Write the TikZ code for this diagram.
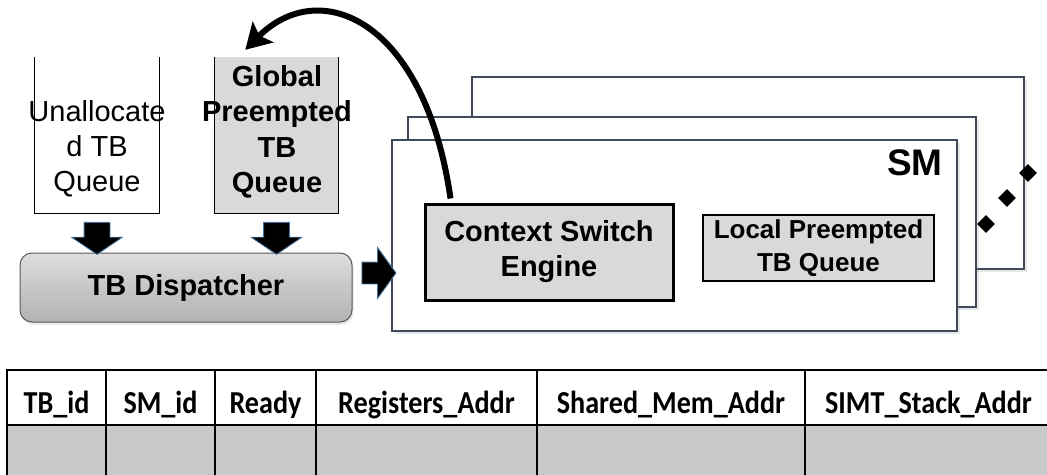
\documentclass[tikz,border=0pt]{standalone}
\usepackage{graphicx}
\usepackage{fontspec}
\setmainfont{Liberation Sans}
\newfontfamily\tablefont{Carlito}
\usetikzlibrary{arrows.meta,shapes.arrows,shapes.geometric,shadows}
\definecolor{smedge}{HTML}{3F4B5B}
\definecolor{arrowedge}{HTML}{41719C}
\definecolor{queuegray}{HTML}{D9D9D9}
\definecolor{rowgray}{HTML}{C9C9C9}
\definecolor{dispedge}{HTML}{5A5A5A}

\begin{document}
\begin{tikzpicture}[
  x=1pt,
  y=-1pt,
  every node/.style={font=\fontsize{29}{35}\selectfont, inner sep=0pt},
  queuebox/.style={minimum width=124pt, minimum height=156pt},
  queueline/.style={black, line width=1.2pt},
  queuetext/.style={align=center},
  downarrow/.style={single arrow, draw=arrowedge, fill=black, line width=0.8pt,
                    rotate=-90, inner xsep=0pt, inner ysep=12.5pt,
                    single arrow head extend=12.5pt, single arrow tip angle=112,
                    minimum height=32pt},
  rightarrow/.style={single arrow, draw=arrowedge, fill=black, line width=0.9pt,
                     inner xsep=0pt, inner ysep=10.5pt,
                     single arrow head extend=14.5pt, single arrow tip angle=108,
                     minimum height=34pt},
  dispbox/.style={draw=dispedge, line width=1pt, rounded corners=12pt,
                  top color=black!13, bottom color=black!30, middle color=black!22,
                  minimum width=332pt, minimum height=69pt,
                  drop shadow={shadow xshift=1.5pt, shadow yshift=-2.5pt, opacity=0.2}},
  smbox/.style={draw=smedge, fill=white, line width=1.4pt,
                drop shadow={shadow xshift=2.5pt, shadow yshift=-3pt, opacity=0.18}},
  unitbox/.style={draw=black, fill=queuegray, align=center, font=\fontsize{29}{35}\selectfont\bfseries},
  dot/.style={diamond, fill=black, minimum size=18pt},
  swaparrow/.style={black, line width=6pt, -{Stealth[length=25pt, width=29pt, inset=5pt]}},
  headcell/.style={draw=black, line width=1.2pt, fill=white, minimum height=55pt,
                   text height=31pt, text depth=0pt, font=\fontsize{32}{35}\tablefont\bfseries},
  bodycell/.style={draw=black, line width=1.2pt, fill=rowgray, minimum height=56pt}
]
  % ---- page frame ----
  \useasboundingbox (0,0) rectangle (1047,474);

  % ---- the two queues, open at the top ----
  \node[queuebox] (unalloc) at (97,135) {};
  \node[queuebox, fill=queuegray] (globalq) at (276.5,135) {};
  \draw[queueline] (unalloc.north west) -- (unalloc.south west)
    -- (unalloc.south east) -- (unalloc.north east);
  \draw[queueline] (globalq.north west) -- (globalq.south west)
    -- (globalq.south east) -- (globalq.north east);
  \node[queuetext] (unalloclab) at (97,149) {Unallocate\\d TB\\Queue};
  \node[queuetext, font=\fontsize{29}{35.5}\selectfont\bfseries] (globallab)
    at (277,132) {Global\\Preempted\\TB\\Queue};

  % ---- dispatcher ----
  \node[dispbox] (dispatch) at (186,287.5) {\bfseries TB Dispatcher};
  \node[downarrow] (feedA) at (97,234) {};
  \node[downarrow] (feedB) at (276.5,234) {};

  % ---- stack of SMs, back to front ----
  \node[smbox, minimum width=552pt, minimum height=192pt] (smback) at (748,173) {};
  \node[smbox, minimum width=568pt, minimum height=190pt] (smmid) at (692,212) {};
  \node[smbox, minimum width=565pt, minimum height=191pt] (smfront) at (674.5,235.5) {};
  \node[anchor=east, font=\fontsize{37}{40}\selectfont\bfseries] (smlab) at (943,163) {SM};
  \node[rightarrow] (issue) at (375,273) {};

  \node[unitbox, line width=3pt, minimum width=248pt, minimum height=96pt]
    (csengine) at (549,252) {Context Switch\\Engine};
  \node[unitbox, line width=2.5pt, minimum width=231pt, minimum height=66pt,
        font=\fontsize{26}{33}\selectfont\bfseries]
    (localq) at (818.5,248) {Local Preempted\\TB Queue};

  % ---- more SMs ----
  \node[dot] (dotA) at (986,224) {};
  \node[dot] (dotB) at (1007,198) {};
  \node[dot] (dotC) at (1028,173) {};

  % ---- preempted TBs go back to the global queue ----
  \coordinate (swapin) at ([xshift=27pt, yshift=4pt]csengine.north west);
  \coordinate (swapout) at ([xshift=31pt, yshift=7pt]globalq.north west);
  \draw[swaparrow] (swapin) .. controls (425,20) and (320,-25) .. (swapout);

  % ---- TB table ----
  \foreach \l/\r/\name in {7/106/TB\_id, 106/215/SM\_id, 215/316/Ready,
                           316/537/Registers\_Addr, 537/805/Shared\_Mem\_Addr,
                           805/1052/SIMT\_Stack\_Addr} {
    \node[bodycell, minimum width={\r-\l}] (b-\l) at ({(\l+\r)/2},453) {};
    \node[headcell, minimum width={\r-\l}] (h-\l) at ({(\l+\r)/2},397.5)
      {\scalebox{0.88}[1]{\name}};
  }
\end{tikzpicture}
\end{document}
